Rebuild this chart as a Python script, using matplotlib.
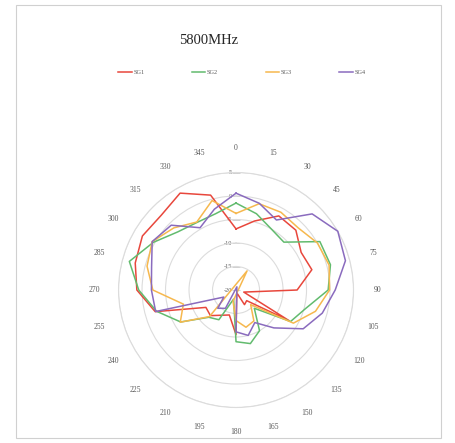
import numpy as np
import matplotlib
matplotlib.use("Agg")
import matplotlib.pyplot as plt
from matplotlib.transforms import offset_copy
from matplotlib.patches import Rectangle

# ---------------- data ----------------
angles_deg = [0, 15, 30, 45, 60, 75, 90, 105, 120, 135, 150, 165,
              180, 195, 210, 225, 240, 255, 270, 285, 300, 315, 330, 345]
angle_labels = ["0", "15", "30", "45", "60", "75", "90", "105", "120", "135", "150", "165",
                "180", "195", "210", "225", "240", "255", "270", "285", "300", "315", "330", "345"]

sg1 = [-7.0, -4.8, -1.8, -2.0, -4.0, -3.3, -7.0, -18.3, -7.0, -16.8, -16.4, -19.4,
       -10.5, -14.5, -13.8, -12.3, -12.6, -2.2, 1.1, 2.2, 3.0, 2.5, 3.8, 0.9]
sg2 = [-1.5, -3.2, -5.0, -5.6, 0.6, 0.8, -0.4, -4.7, -6.6, -14.5, -10.0, -8.2,
       -9.0, -18.0, -12.7, -11.8, -6.4, -2.5, 0.7, 3.5, 0.3, -2.5, -3.4, -3.2]
sg3 = [-3.7, -1.0, -0.9, -1.3, 0.0, 0.5, -0.1, -2.5, -5.9, -15.6, -12.4, -11.8,
       -13.5, -17.5, -24.7, -12.0, -6.3, -8.4, -2.3, -0.4, 0.6, -1.3, -3.3, -0.3]
sg4 = [0.6, -0.9, -2.8, 2.9, 5.0, 4.1, 1.1, -1.0, -3.5, -8.6, -12.0, -10.0,
       -11.1, -20.7, -15.5, -14.5, -17.0, -2.3, -2.0, -1.4, 0.6, -0.5, -4.7, -2.2]

series_names = ["SG1", "SG2", "SG3", "SG4"]
series_values = [sg1, sg2, sg3, sg4]
series_colors = ["#E8473C", "#62BB6E", "#F6B84E", "#8A6BBE"]

r_ticks = [-20, -15, -10, -5, 0, 5]
r_tick_labels = ["-20", "-15", "-10", "-5", "0", "5"]
title_text = "5800MHz"

R_MIN, R_MAX = -20, 5
SERIF = "Liberation Serif"
TXT = "#595959"
GRID = "#DCDCDC"


def to_polar(vals):
    """Radar-chart convention: values below the axis minimum pass through the centre."""
    theta = np.deg2rad(np.asarray(angles_deg, float))
    v = np.asarray(vals, float)
    below = v < R_MIN
    r = np.where(below, 2 * R_MIN - v, v)
    th = np.where(below, theta + np.pi, theta)
    return np.append(th, th[0]), np.append(r, r[0])


fig = plt.figure(figsize=(4.56, 4.43), dpi=100)
fig.patch.set_facecolor("white")

# chart border
fig.add_artist(Rectangle((16 / 456, 5 / 443), 425 / 456, 433 / 443,
                         transform=fig.transFigure, fill=False,
                         edgecolor="#D0D0D0", linewidth=0.8))

ax = fig.add_axes([0.2599, 0.0801, 0.5154, 0.5305], projection="polar")
ax.set_theta_zero_location("N")
ax.set_theta_direction(-1)
ax.set_ylim(R_MIN, R_MAX)

# grid
ax.set_yticks(r_ticks)
ax.set_yticklabels([])
ax.yaxis.grid(True, color=GRID, linewidth=0.8)
ax.xaxis.grid(False)
ax.spines["polar"].set_color(GRID)
ax.spines["polar"].set_linewidth(0.8)
ax.tick_params(axis="y", length=0)

# angle labels
ax.set_xticks(np.deg2rad(angles_deg))
ax.set_xticklabels(angle_labels, fontsize=5.5, color=TXT, family=SERIF)
ax.tick_params(axis="x", pad=10.5, length=0)

# radial value labels and tick marks on the 0-degree axis
lab_tr = offset_copy(ax.transData, fig=fig, x=-4, y=0, units="dots")
for v, s in zip(r_ticks, r_tick_labels):
    ax.text(0, v, s, transform=lab_tr, ha="right", va="center",
            fontsize=4.5, color=TXT, family=SERIF, zorder=1)
ax.plot(np.zeros(len(r_ticks)), r_ticks, linestyle="none", marker="_",
        markersize=6, markeredgewidth=0.6, color="#C8C8C8", zorder=1,
        clip_on=False)

# series
for name, vals, col in zip(series_names, series_values, series_colors):
    th, r = to_polar(vals)
    ax.plot(th, r, color=col, linewidth=1.1, label=name, zorder=3, clip_on=False)

# title and legend
fig.text(209 / 456, 1 - 40 / 443, title_text, ha="center", va="center",
         fontsize=10.5, family=SERIF, color="#262626")
handles, labels = ax.get_legend_handles_labels()
fig.legend(handles, labels, loc="center", bbox_to_anchor=(242 / 456, 1 - 72 / 443),
           ncol=4, frameon=False, prop={"family": SERIF, "size": 4.5},
           handlelength=2.1, handletextpad=0.3, columnspacing=7.6,
           labelcolor=TXT)

fig.savefig("out.png", dpi=100, facecolor="white")
